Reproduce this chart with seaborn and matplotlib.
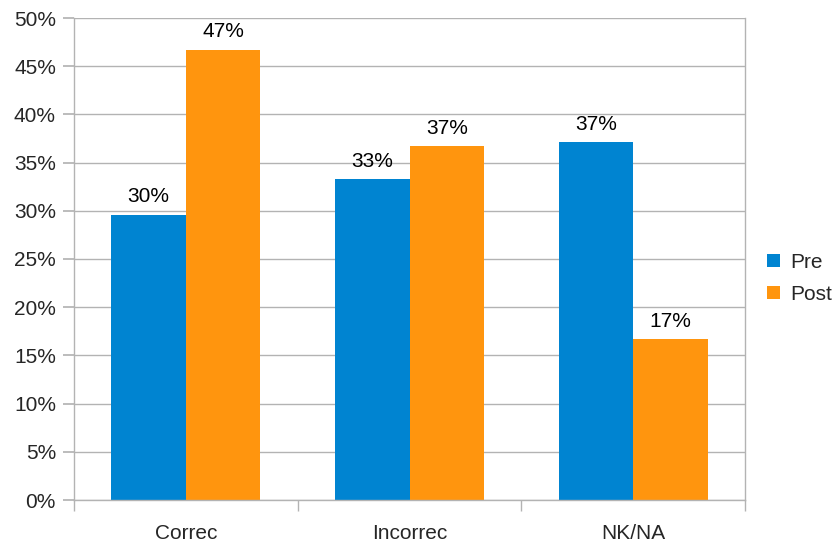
import matplotlib
matplotlib.use("Agg")
import matplotlib.pyplot as plt
import seaborn as sns
import pandas as pd
from matplotlib.ticker import PercentFormatter, FixedLocator

categories = ["Correc", "Incorrec", "NK/NA"]
series = ["Pre", "Post"]
pre_values = [29.6, 33.3, 37.1]
post_values = [46.7, 36.7, 16.7]
bar_labels_pre = ["30%", "33%", "37%"]
bar_labels_post = ["47%", "37%", "17%"]
yticks = [0, 5, 10, 15, 20, 25, 30, 35, 40, 45, 50]

df = pd.DataFrame({
    "category": categories * 2,
    "series": ["Pre"] * 3 + ["Post"] * 3,
    "value": pre_values + post_values,
})

sns.set_theme(style="white")
plt.rcParams['font.family'] = ['Liberation Sans', 'DejaVu Sans']

fig = plt.figure(figsize=(8.39, 5.42), dpi=100)
ax = fig.add_axes([74/839, 42/542, (745-74)/839, (500-18)/542])

sns.barplot(data=df, x="category", y="value", hue="series", order=categories,
            hue_order=series, palette=["#0084D1", "#FF950E"], width=0.667,
            saturation=1, linewidth=0, ax=ax, legend=True)

for cont, labs in zip(ax.containers, [bar_labels_pre, bar_labels_post]):
    ax.bar_label(cont, labels=labs, padding=6, fontsize=15, color="#000000")

ax.set_ylim(0, 50)
ax.set_xlim(-0.5, 2.5)
ax.yaxis.set_major_locator(FixedLocator(yticks))
ax.yaxis.set_major_formatter(PercentFormatter(decimals=0))
ax.grid(axis="y", color="#b3b3b3", linewidth=1)
ax.set_axisbelow(True)
ax.set_xlabel("")
ax.set_ylabel("")
ax.spines["top"].set_visible(False)
for s in ["left", "right", "bottom"]:
    ax.spines[s].set_color("#b3b3b3")
    ax.spines[s].set_linewidth(1)
ax.tick_params(axis="y", length=8, color="#b3b3b3", labelsize=15, pad=5, left=True)
ax.tick_params(axis="x", length=0, labelsize=15, pad=17)
ax.set_xticks([-0.5, 0.5, 1.5, 2.5], minor=True)
ax.tick_params(axis="x", which="minor", length=8, color="#b3b3b3", bottom=True)

leg = ax.legend(loc="center left", bbox_to_anchor=(1.005, 0.46), frameon=False,
                fontsize=15, handlelength=0.6, handleheight=0.6, handletextpad=0.5,
                labelspacing=0.6)

fig.savefig("out.png", dpi=100)
